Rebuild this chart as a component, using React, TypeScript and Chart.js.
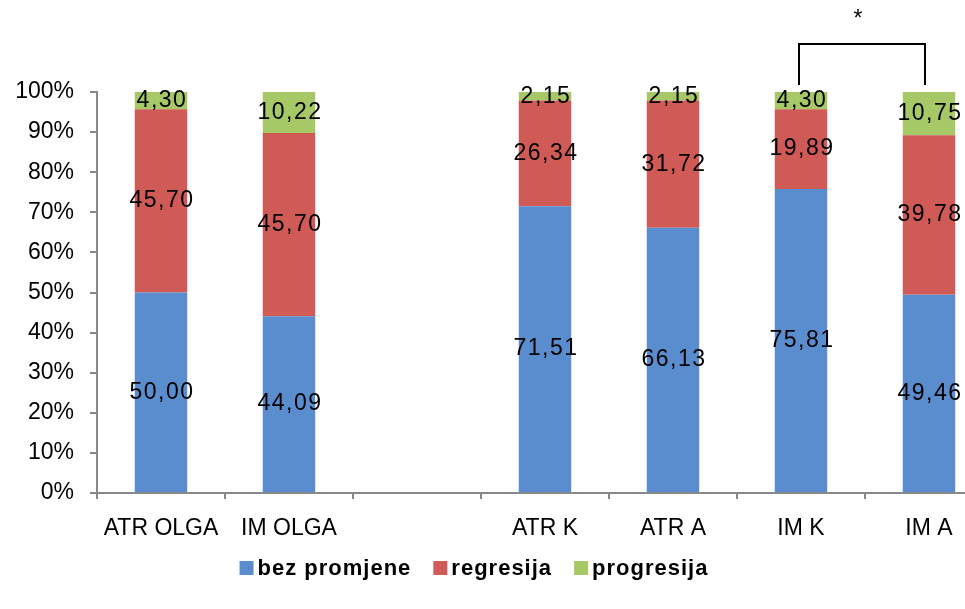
import React, { useEffect, useRef } from "react";
import { Chart, registerables } from "chart.js";

Chart.register(...registerables);

const categories = ["ATR OLGA", "IM OLGA", "", "ATR K", "ATR A", "IM K", "IM A"];
const bezPromjene = [50.0, 44.09, null, 71.51, 66.13, 75.81, 49.46];
const regresija = [45.7, 45.7, null, 26.34, 31.72, 19.89, 39.78];
const progresija = [4.3, 10.22, null, 2.15, 2.15, 4.3, 10.75];
const seriesNames = ["bez promjene", "regresija", "progresija"];
const seriesColors = ["#5A8DCD", "#CF5A56", "#A7C866"];
const bracketPair = [5, 6];
const bracketMark = "*";

const FONT = '"Liberation Sans", Arial, sans-serif';

const dataLabelPlugin = {
  id: "dataLabels",
  afterDatasetsDraw(chart: any) {
    const ctx = chart.ctx;
    ctx.save();
    ctx.font = `23px ${FONT}`;
    (ctx as any).letterSpacing = "1.5px";
    ctx.fillStyle = "#000";
    ctx.textAlign = "center";
    ctx.textBaseline = "middle";
    chart.data.datasets.forEach((ds: any, i: number) => {
      const meta = chart.getDatasetMeta(i);
      meta.data.forEach((el: any, j: number) => {
        const v = ds.data[j];
        if (v == null) return;
        const p = el.getProps(["x", "y", "base"], true);
        ctx.fillText(v.toFixed(2).replace(".", ","), p.x + 1, (p.y + p.base) / 2);
      });
    });
    ctx.restore();
  },
};

const bracketPlugin = {
  id: "bracket",
  afterDraw(chart: any) {
    const ctx = chart.ctx;
    const xs = chart.scales.x;
    const ys = chart.scales.y;
    const x1 = xs.getPixelForValue(bracketPair[0]) - 2;
    const x2 = xs.getPixelForValue(bracketPair[1]) - 4;
    const top = ys.getPixelForValue(100);
    const yTop = top - 48;
    const yBot = top - 7;
    ctx.save();
    ctx.strokeStyle = "#000";
    ctx.lineWidth = 2;
    ctx.beginPath();
    ctx.moveTo(x1, yBot);
    ctx.lineTo(x1, yTop);
    ctx.lineTo(x2, yTop);
    ctx.lineTo(x2, yBot);
    ctx.stroke();
    ctx.font = `23px ${FONT}`;
    ctx.fillStyle = "#000";
    ctx.textAlign = "center";
    ctx.textBaseline = "alphabetic";
    ctx.fillText(bracketMark, (x1 + x2) / 2 - 4, top - 66);
    ctx.restore();
  },
};

const legendPlugin = {
  id: "customLegend",
  afterDraw(chart: any) {
    const ctx = chart.ctx;
    ctx.save();
    ctx.font = `bold 22px ${FONT}`;
    (ctx as any).letterSpacing = "1px";
    const box = 14;
    const gapText = 4;
    const gapItem = 22;
    const widths = seriesNames.map((n) => ctx.measureText(n).width);
    const total =
      widths.reduce((a, w) => a + box + gapText + w, 0) + gapItem * (seriesNames.length - 1);
    let x = 474 - total / 2;
    const cy = 568;
    ctx.textBaseline = "middle";
    ctx.textAlign = "left";
    seriesNames.forEach((n, i) => {
      ctx.fillStyle = seriesColors[i];
      ctx.fillRect(x, cy - box / 2, box, box);
      x += box + gapText;
      ctx.fillStyle = "#000";
      ctx.fillText(n, x, cy + 1);
      x += widths[i] + gapItem;
    });
    ctx.restore();
  },
};

export default function App() {
  const ref = useRef<HTMLCanvasElement>(null);
  useEffect(() => {
    if (!ref.current) return;
    const axisColor = "#888888";
    const chart = new Chart(ref.current, {
      type: "bar",
      data: {
        labels: categories,
        datasets: [
          { label: seriesNames[0], data: bezPromjene, backgroundColor: seriesColors[0] },
          { label: seriesNames[1], data: regresija, backgroundColor: seriesColors[1] },
          { label: seriesNames[2], data: progresija, backgroundColor: seriesColors[2] },
        ] as any,
      },
      options: {
        responsive: false,
        animation: false,
        devicePixelRatio: 1,
        layout: { padding: { top: 92, right: 7, bottom: 0, left: 0 } },
        datasets: { bar: { categoryPercentage: 1, barPercentage: 0.41 } } as any,
        plugins: { legend: { display: false }, tooltip: { enabled: false } },
        scales: {
          x: {
            stacked: true,
            grid: {
              display: true,
              drawOnChartArea: false,
              drawTicks: true,
              tickLength: 6,
              color: axisColor,
              lineWidth: 2,
              offset: true,
            },
            border: { display: true, color: axisColor, width: 2 },
            ticks: {
              color: "#000",
              font: { family: FONT, size: 23 },
              padding: 16,
              maxRotation: 0,
              autoSkip: false,
            },
            afterFit: (s: any) => {
              s.height = 116;
            },
          },
          y: {
            stacked: true,
            min: 0,
            max: 100,
            grid: {
              display: true,
              drawOnChartArea: false,
              drawTicks: true,
              tickLength: 7,
              color: axisColor,
              lineWidth: 2,
            },
            border: { display: true, color: axisColor, width: 2 },
            ticks: {
              stepSize: 10,
              color: "#000",
              font: { family: FONT, size: 23 },
              padding: 16,
              callback: (v: any) => `${v}%`,
            },
            afterFit: (s: any) => {
              s.width = 97;
            },
          },
        },
      },
      plugins: [dataLabelPlugin, bracketPlugin, legendPlugin],
    });
    return () => chart.destroy();
  }, []);
  return (
    <div
      style={{
        position: "fixed",
        left: 0,
        top: 0,
        width: 965,
        height: 609,
        overflow: "hidden",
        background: "#fff",
      }}
    >
      <canvas ref={ref} width={1000} height={609} style={{ width: 1000, height: 609, display: "block" }} />
    </div>
  );
}
